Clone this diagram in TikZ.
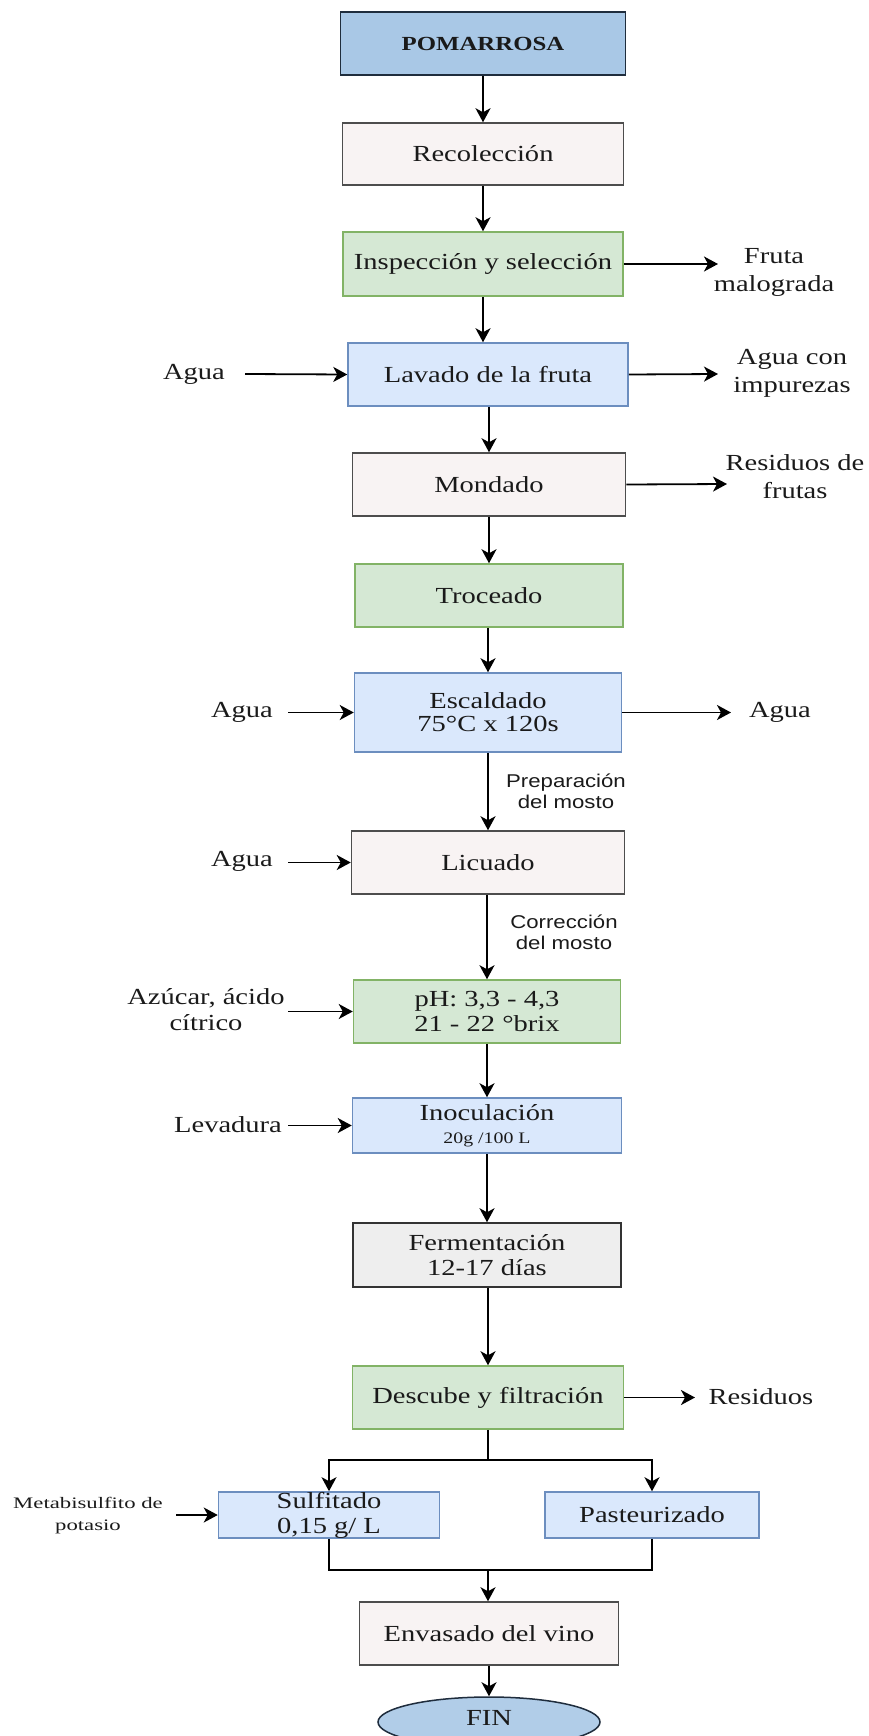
\documentclass[tikz,border=0pt]{standalone}
\usepackage{fontspec}
\setmainfont{Liberation Serif}[FakeStretch=1.24]
\newfontfamily\labsans{Liberation Sans}[FakeStretch=1.2]
\newfontfamily\metafont{Liberation Serif}[FakeStretch=1.42]
\usetikzlibrary{arrows.meta,shapes.geometric}
\definecolor{txt}{HTML}{1A1A1A}
\definecolor{pomf}{HTML}{A9C8E6}
\definecolor{pomd}{HTML}{1F2D3D}
\definecolor{pinkf}{HTML}{F8F3F3}
\definecolor{pinkd}{HTML}{4D4D4D}
\definecolor{greenf}{HTML}{D5E8D4}
\definecolor{greend}{HTML}{82B366}
\definecolor{bluef}{HTML}{DAE8FC}
\definecolor{blued}{HTML}{6C8EBF}
\definecolor{grayf}{HTML}{EEEEEE}
\definecolor{grayd}{HTML}{333333}
\definecolor{finf}{HTML}{B1CDE8}
\begin{document}
\begin{tikzpicture}[x=1pt,y=-1pt,
  box/.style={rectangle, line width=1.5pt, inner sep=0pt, align=center, text=txt,
    font=\fontsize{23}{25}\selectfont},
  pombox/.style={box, fill=pomf, draw=pomd, font=\fontsize{20}{22}\selectfont\bfseries},
  pinkbox/.style={box, fill=pinkf, draw=pinkd},
  greenbox/.style={box, fill=greenf, draw=greend},
  bluebox/.style={box, fill=bluef, draw=blued},
  graybox/.style={box, fill=grayf, draw=grayd},
  finnode/.style={ellipse, fill=finf, draw=pomd, line width=1.5pt, inner sep=0pt, text=txt,
    font=\fontsize{23}{25}\selectfont},
  side/.style={align=center, inner sep=0pt, text=txt, font=\fontsize{23}{28}\selectfont},
  note/.style={align=center, inner sep=0pt, text=txt, font=\labsans\fontsize{18.5}{21}\selectfont},
  arr/.style={-{Stealth[length=14pt,width=15pt,inset=4pt]}, line width=1.8pt, draw=black},
  ln/.style={line width=1.8pt, draw=black},
]
\useasboundingbox (0,0) rectangle (868,1736);

% main column
\node[pombox, minimum width=285pt, minimum height=63pt] (pom) at (483,43.5) {POMARROSA};
\node[pinkbox, minimum width=281pt, minimum height=62pt] (rec) at (483,154) {Recolección};
\node[greenbox, minimum width=280pt, minimum height=64pt] (insp) at (483,264) {Inspección y selección};
\node[bluebox, minimum width=280pt, minimum height=63pt] (lav) at (488,374.5) {Lavado de la fruta};
\node[pinkbox, minimum width=273pt, minimum height=63pt] (mon) at (489,484.5) {Mondado};
\node[greenbox, minimum width=268pt, minimum height=63pt] (tro) at (489,595.5) {Troceado};
\node[bluebox, minimum width=267pt, minimum height=79pt, font=\fontsize{23}{23}\selectfont] (esc) at (488,712.5) {Escaldado\\75°C x 120s};
\node[pinkbox, minimum width=273pt, minimum height=63pt] (lic) at (488,862.5) {Licuado};
\node[greenbox, minimum width=267pt, minimum height=63pt] (ph) at (487,1011.5) {pH: 3,3 - 4,3\\21 - 22 °brix};
\node[bluebox, minimum width=269pt, minimum height=55pt] (ino) at (487,1125.5) {Inoculación\\[-2pt]{\fontsize{16}{18}\selectfont 20g /100 L}};
\node[graybox, minimum width=268pt, minimum height=64pt] (fer) at (487,1255) {Fermentación\\12-17 días};
\node[greenbox, minimum width=271pt, minimum height=63pt] (desc) at (488,1397.5) {Descube y filtración};
\node[bluebox, minimum width=221pt, minimum height=46pt] (sul) at (329,1515) {Sulfitado\\0,15 g/ L};
\node[bluebox, minimum width=214pt, minimum height=46pt] (pas) at (652,1515) {Pasteurizado};
\node[pinkbox, minimum width=259pt, minimum height=63pt] (env) at (489,1633.5) {Envasado del vino};
\node[finnode, minimum width=222pt, minimum height=50pt] (fin) at (489,1722) {};
\node[inner sep=0pt, text=txt, font=\fontsize{23}{25}\selectfont] (fintxt) at (489,1718) {FIN};

% side texts
\node[side] (fruta) at (774,272) {Fruta\\malograda};
\node[side] (aguaimp) at (792,373) {Agua con\\impurezas};
\node[side] (agua1) at (194,374) {Agua};
\node[side] (resfru) at (795,477) {Residuos de\\frutas};
\node[side] (agua2) at (242,712) {Agua};
\node[side] (agua3) at (780,712) {Agua};
\node[note] (prep) at (566,791) {Preparación\\del mosto};
\node[side] (agua4) at (242,861) {Agua};
\node[note] (corr) at (564,932) {Corrección\\del mosto};
\node[side, font=\fontsize{23}{26}\selectfont] (azuc) at (206,1010) {Azúcar, ácido\\cítrico};
\node[side] (lev) at (228,1125) {Levadura};
\node[side] (resid) at (761,1397) {Residuos};
\node[side, font=\metafont\fontsize{16}{22}\selectfont] (meta) at (88,1516) {Metabisulfito de\\potasio};

% coordinates for free arrow ends
\coordinate (frutaA) at (718,264);
\coordinate (aguaimpA) at (718,374);
\coordinate (agua1A) at (245,374);
\coordinate (resfruA) at (727,484);
\coordinate (agua2A) at (288,712.5);
\coordinate (agua3A) at (731,712.5);
\coordinate (agua4A) at (288,862.5);
\coordinate (azucA) at (288,1011.5);
\coordinate (levA) at (288,1125.5);
\coordinate (residA) at (695,1397.5);
\coordinate (metaA) at (176,1515);
\coordinate (b1) at (488,1460);
\coordinate (m1) at (488,1570);

% main flow
\draw[arr] (pom) -- (rec);
\draw[arr] (rec) -- (insp);
\draw[arr] (insp.south -| 483,0) -- (lav.north -| 483,0);
\draw[arr] (lav.south -| 489,0) -- (mon.north -| 489,0);
\draw[arr] (mon) -- (tro);
\draw[arr] (tro.south -| 488,0) -- (esc.north -| 488,0);
\draw[arr] (esc) -- (lic);
\draw[arr] (lic.south -| 487,0) -- (ph.north -| 487,0);
\draw[arr] (ph) -- (ino);
\draw[arr] (ino) -- (fer);
\draw[arr] (fer.south -| 488,0) -- (desc.north -| 488,0);
\draw[ln] (desc.south) -- (b1);
\draw[arr] (b1) -| (sul.north);
\draw[arr] (b1) -| (pas.north);
\draw[ln] (sul.south) |- (m1);
\draw[ln] (pas.south) |- (m1);
\draw[arr] (m1) -- (env.north -| m1);
\draw[arr] (env) -- (fin);

% side arrows
\draw[arr] (insp.east) -- (frutaA);
\draw[arr] (lav.east) -- (aguaimpA);
\draw[arr] (agua1A) -- (lav.west);
\draw[arr] (mon.east) -- (resfruA);
\draw[arr] (agua2A) -- (esc.west);
\draw[arr] (esc.east) -- (agua3A);
\draw[arr] (agua4A) -- (lic.west);
\draw[arr] (azucA) -- (ph.west);
\draw[arr] (levA) -- (ino.west);
\draw[arr] (desc.east) -- (residA);
\draw[arr] (metaA) -- (sul.west);
\end{tikzpicture}
\end{document}
